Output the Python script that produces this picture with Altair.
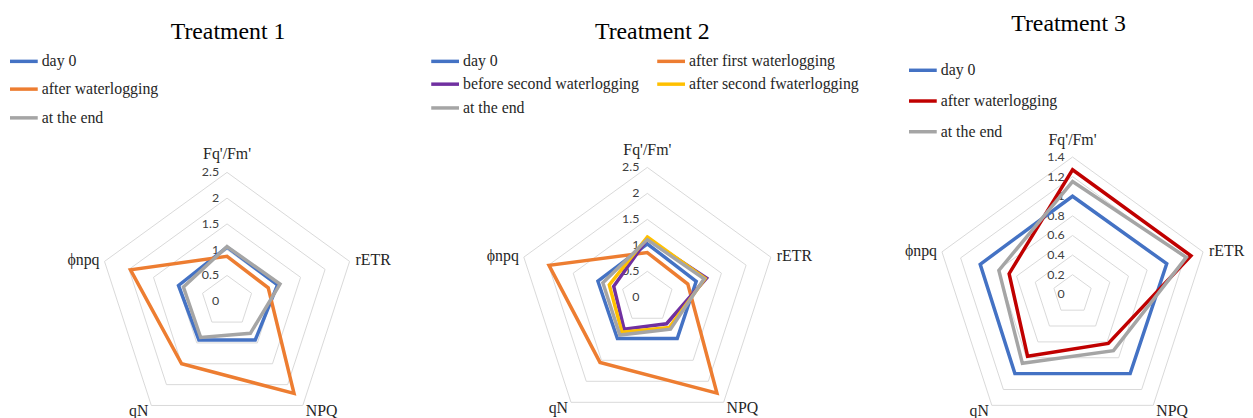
import math
import altair as alt
import pandas as pd

categories = ["Fq'/Fm'", "rETR", "NPQ", "qN", "ϕnpq"]

# Treatment 1
t1_series = ["day 0", "after waterlogging", "at the end"]
t1_colors = ["#4472C4", "#ED7D31", "#A5A5A5"]
t1_day0 = [1.05, 1.03, 0.93, 0.93, 0.99]
t1_after = [0.87, 0.84, 2.21, 1.50, 1.97]
t1_end = [1.06, 1.08, 0.77, 0.87, 0.89]
t1_ticks = [0, 0.5, 1, 1.5, 2, 2.5]

# Treatment 2
t2_series = ["day 0", "after first waterlogging", "before second waterlogging",
             "after second fwaterlogging", "at the end"]
t2_colors = ["#4472C4", "#ED7D31", "#7030A0", "#FFC000", "#A5A5A5"]
t2_day0 = [1.03, 0.99, 0.98, 0.98, 1.00]
t2_after1 = [0.86, 0.82, 2.28, 1.55, 1.99]
t2_before2 = [1.12, 1.20, 0.63, 0.76, 0.68]
t2_after2 = [1.16, 1.17, 0.72, 0.83, 0.77]
t2_end = [1.11, 1.15, 0.76, 0.90, 0.90]
t2_ticks = [0, 0.5, 1, 1.5, 2, 2.5]

# Treatment 3
t3_series = ["day 0", "after waterlogging", "at the end"]
t3_colors = ["#4472C4", "#C00000", "#A5A5A5"]
t3_day0 = [1.00, 1.01, 1.00, 1.00, 0.99]
t3_after = [1.27, 1.27, 0.62, 0.78, 0.68]
t3_end = [1.15, 1.22, 0.71, 0.87, 0.79]
t3_ticks = [0, 0.2, 0.4, 0.6, 0.8, 1, 1.2, 1.4]

SERIF = "Liberation Serif"
SANS = "Lato"
TXT = "#262626"
N = len(categories)
ANG = f"PI/2 - datum.idx*2*PI/{N}"


def label_style(top_dy):
    # (align, baseline, dx, dy) per category index
    return [
        ("center", "bottom", 0, top_dy),
        ("left", "middle", 6, -1),
        ("left", "middle", 3, 6),
        ("right", "middle", -3, 6),
        ("right", "middle", -5, -1),
    ]


def panel(title, series, colors, values, ticks, width, height, cx, cy, R,
          legend_pos, title_x, title_y, top_dy):
    tmax = max(ticks)
    rows = []
    for s, vals in zip(series, values):
        for i, v in enumerate(vals):
            rows.append({"series": s, "category": categories[i], "idx": i, "value": v})
    df = pd.DataFrame(rows)
    grid = pd.DataFrame([{"tick": t, "idx": i} for t in ticks if t > 0 for i in range(N)])
    tickdf = pd.DataFrame({"tick": ticks, "label": [f"{t:g}" for t in ticks]})
    catdf = pd.DataFrame({"category": categories, "idx": list(range(N))})

    xs = alt.Scale(domain=[-cx / R, (width - cx) / R], nice=False, zero=False)
    ys = alt.Scale(domain=[-(height - cy) / R, cy / R], nice=False, zero=False)
    X = alt.X("px:Q", scale=xs, axis=None)
    Y = alt.Y("py:Q", scale=ys, axis=None)

    gridl = alt.Chart(grid).transform_calculate(
        ang=ANG,
        px=f"datum.tick/{tmax}*cos(datum.ang)",
        py=f"datum.tick/{tmax}*sin(datum.ang)",
    ).mark_line(interpolate="linear-closed", color="#D9D9D9", strokeWidth=1).encode(
        x=X, y=Y, detail="tick:N", order="idx:Q"
    )

    ticklab = alt.Chart(tickdf).transform_calculate(
        px="0", py=f"datum.tick/{tmax}"
    ).mark_text(align="right", baseline="middle", dx=-8, font=SANS, fontSize=12.5,
                color="#404040").encode(x=X, y=Y, text="label:N")

    layers = [gridl, ticklab]
    for s, c in zip(series, colors):
        layers.append(
            alt.Chart(df).transform_filter(alt.datum.series == s).transform_calculate(
                ang=ANG,
                px=f"datum.value/{tmax}*cos(datum.ang)",
                py=f"datum.value/{tmax}*sin(datum.ang)",
            ).mark_line(interpolate="linear-closed", strokeWidth=3.5, strokeJoin="miter",
                        color=c).encode(x=X, y=Y, order="idx:Q")
        )
    for i, (al, bl, dx, dy) in enumerate(label_style(top_dy)):
        layers.append(
            alt.Chart(catdf).transform_filter(alt.datum.idx == i).transform_calculate(
                ang=ANG, px="cos(datum.ang)", py="sin(datum.ang)"
            ).mark_text(align=al, baseline=bl, dx=dx, dy=dy, font=SERIF, fontSize=16,
                        color=TXT).encode(x=X, y=Y, text="category:N")
        )
    # legend entries (line sample + label)
    for s, c, (lx, ly) in zip(series, colors, legend_pos):
        ldf = pd.DataFrame({"series": [s]})
        layers.append(
            alt.Chart(ldf).mark_rule(color=c, strokeWidth=3.5, strokeCap="butt").encode(
                x=alt.value(lx), x2=alt.value(lx + 28), y=alt.value(ly)
            )
        )
        layers.append(
            alt.Chart(ldf).mark_text(align="left", baseline="middle", font=SERIF,
                                     fontSize=16, color=TXT).encode(
                x=alt.value(lx + 32), y=alt.value(ly), text="series:N"
            )
        )
    layers.append(
        alt.Chart(pd.DataFrame({"t": [title]})).mark_text(
            font=SERIF, fontSize=24, align="center", baseline="middle", color="#000000"
        ).encode(x=alt.value(title_x), y=alt.value(title_y), text="t:N")
    )
    return alt.layer(*layers).properties(width=width, height=height)


H = 402
p1 = panel("Treatment 1", t1_series, t1_colors, [t1_day0, t1_after, t1_end], t1_ticks,
           412, H, 221, 294, 130,
           [(2, 52), (2, 80), (2, 109)], 222, 22, -10)
p2 = panel("Treatment 2", t2_series, t2_colors,
           [t2_day0, t2_after1, t2_before2, t2_after2, t2_end], t2_ticks,
           470, H, 233, 290, 131,
           [(15, 52), (243, 52), (15, 75), (243, 75), (15, 99)], 238, 22, -10)
p3 = panel("Treatment 3", t3_series, t3_colors, [t3_day0, t3_after, t3_end], t3_ticks,
           355, H, 192, 287, 138.5,
           [(27, 61), (27, 92), (27, 123)], 188, 14, -9)

chart = alt.hconcat(p1, p2, p3, spacing=0, bounds="flush").resolve_scale(
    x="independent", y="independent"
).properties(padding=0, background="white").configure_view(stroke=None)

chart.save("out.html", embed_options={"renderer": "svg", "actions": False})
